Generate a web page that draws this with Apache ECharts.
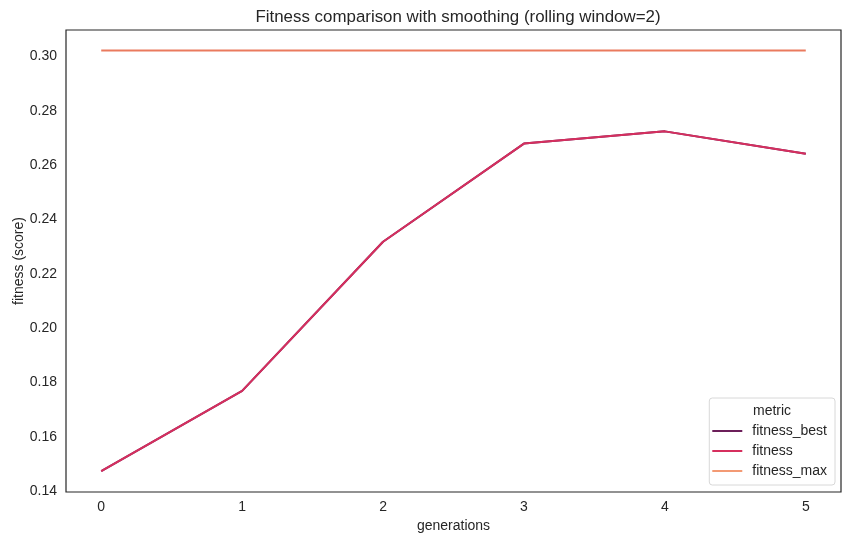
<!DOCTYPE html>
<html>
<head>
<meta charset="utf-8">
<script src="https://cdn.jsdelivr.net/npm/echarts@6/dist/echarts.min.js"></script>
<style>
  html, body { margin: 0; padding: 0; background: #fff; }
  #main { width: 851px; height: 544px; }
</style>
</head>
<body>
<div id="main"></div>
<script>
// data
var generations = [0, 1, 2, 3, 4, 5];
var fitnessBest = [0.1474, 0.1769, 0.2318, 0.2679, 0.2724, 0.2642];
var fitness = [0.1474, 0.1769, 0.2318, 0.2679, 0.2724, 0.2642];
var fitnessMax = [0.3022, 0.3022, 0.3022, 0.3022, 0.3022, 0.3022];
var yTicks = [0.14, 0.16, 0.18, 0.20, 0.22, 0.24, 0.26, 0.28, 0.30];

function pairs(xs, ys) {
    return xs.map(function (x, i) { return [x, ys[i]]; });
}

var myChart = echarts.init(document.getElementById('main'), null, { renderer: 'canvas' });
var font = 'Liberation Sans, Arial, sans-serif';
var txt = '#262626';
var lineIcon = 'path://M0,0H30V2H0Z';

var option = {
    backgroundColor: '#fff',
    animation: false,
    textStyle: { fontFamily: font },
    title: {
        text: 'Fitness comparison with smoothing (rolling window=2)',
        left: 453, top: 4, textAlign: 'center',
        textStyle: { fontSize: 16.9, fontWeight: 'normal', color: txt, fontFamily: font }
    },
    grid: {
        left: 66, right: 10, top: 30, bottom: 52,
        outerBoundsMode: 'none',
        show: true, borderColor: '#262626', borderWidth: 1.2, backgroundColor: '#fff'
    },
    legend: {
        orient: 'vertical',
        right: 16, bottom: 59,
        padding: [26, 8, 7, 3],
        itemWidth: 30, itemHeight: 14, itemGap: 6,
        backgroundColor: '#fff',
        borderColor: '#d8d8d8', borderWidth: 1, borderRadius: 3,
        textStyle: { fontSize: 14, color: txt, fontFamily: font, padding: [0, 0, 0, 5] },
        data: [
            { name: 'fitness_best', icon: lineIcon, itemStyle: { color: '#6c1f5a' } },
            { name: 'fitness', icon: lineIcon, itemStyle: { color: '#d62f5e' } },
            { name: 'fitness_max', icon: lineIcon, itemStyle: { color: '#f39a74' } }
        ]
    },
    graphic: [{
        type: 'text', left: 753, top: 404, z: 100,
        style: { text: 'metric', fontSize: 14, fill: txt, fontFamily: font }
    }],
    xAxis: {
        type: 'value', min: -0.25, max: 5.25,
        name: 'generations', nameLocation: 'middle', nameGap: 27, nameMoveOverlap: false,
        nameTextStyle: { fontSize: 14, color: txt, fontFamily: font },
        axisLine: { show: false }, axisTick: { show: false }, splitLine: { show: false },
        axisLabel: { customValues: generations, fontSize: 14, color: txt, margin: 8 }
    },
    yAxis: {
        type: 'value', min: 0.1397, max: 0.3097,
        name: 'fitness (score)', nameLocation: 'middle', nameGap: 40, nameMoveOverlap: false,
        nameTextStyle: { fontSize: 14, color: txt, fontFamily: font },
        axisLine: { show: false }, axisTick: { show: false }, splitLine: { show: false },
        axisLabel: {
            customValues: yTicks, fontSize: 14, color: txt, margin: 9,
            formatter: function (v) { return v.toFixed(2); }
        }
    },
    series: [
        { name: 'fitness_best', type: 'line', symbol: 'none', data: pairs(generations, fitnessBest),
          lineStyle: { color: '#6c1f5a', width: 2 }, itemStyle: { color: '#6c1f5a' } },
        { name: 'fitness', type: 'line', symbol: 'none', data: pairs(generations, fitness),
          lineStyle: { color: '#d62f5e', width: 2 }, itemStyle: { color: '#d62f5e' } },
        { name: 'fitness_max', type: 'line', symbol: 'none', data: pairs(generations, fitnessMax),
          lineStyle: { color: '#ea7a5e', width: 2 }, itemStyle: { color: '#f39a74' } }
    ]
};

myChart.setOption(option);
</script>
</body>
</html>
